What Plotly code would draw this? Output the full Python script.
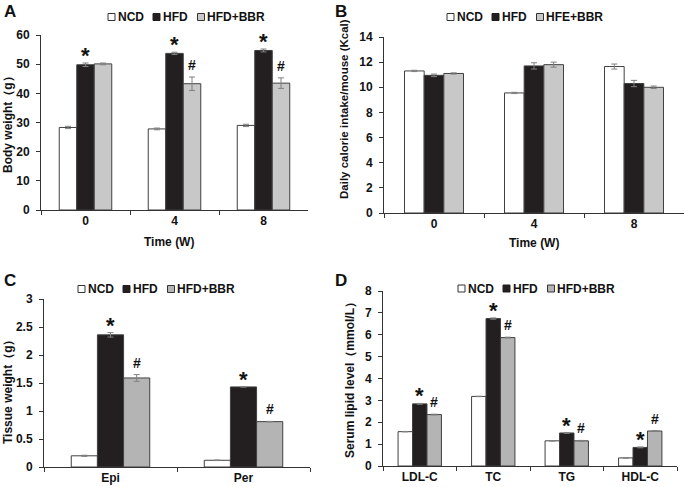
import plotly.graph_objects as go

# ---------------- data ----------------
groups = ["NCD", "HFD", "HFD+BBR"]
groups_b = ["NCD", "HFD", "HFE+BBR"]

a_cats = ["0", "4", "8"]
a_ncd = [28.3, 27.8, 29.0]
a_ncd_err = [0.4, 0.3, 0.4]
a_hfd = [49.8, 53.7, 54.7]
a_hfd_err = [0.6, 0.4, 0.5]
a_bbr = [50.1, 43.3, 43.5]
a_bbr_err = [0.3, 2.3, 1.8]
a_star = ["*", "*", "*"]
a_hash = ["", "#", "#"]

b_cats = ["0", "4", "8"]
b_ncd = [11.3, 9.55, 11.65]
b_ncd_err = [0.05, 0.05, 0.2]
b_hfd = [10.95, 11.7, 10.3]
b_hfd_err = [0.1, 0.25, 0.25]
b_bbr = [11.1, 11.8, 10.0]
b_bbr_err = [0.05, 0.2, 0.1]

c_cats = ["Epi", "Per"]
c_ncd = [0.2, 0.12]
c_ncd_err = [0.01, 0.005]
c_hfd = [2.36, 1.43]
c_hfd_err = [0.04, 0.005]
c_bbr = [1.59, 0.81]
c_bbr_err = [0.06, 0.005]
c_star = ["*", "*"]
c_hash = ["#", "#"]

d_cats = ["LDL-C", "TC", "TG", "HDL-C"]
d_ncd = [1.57, 3.18, 1.15, 0.37]
d_ncd_err = [0.01, 0.01, 0.01, 0.01]
d_hfd = [2.84, 6.74, 1.51, 0.85]
d_hfd_err = [0.02, 0.03, 0.02, 0.02]
d_bbr = [2.35, 5.87, 1.15, 1.6]
d_bbr_err = [0.02, 0.02, 0.02, 0.02]
d_star = ["*", "*", "*", "*"]
d_hash = ["#", "#", "#", "#"]

# ---------------- style ----------------
FONT = "Liberation Sans, Arial, sans-serif"
W, H = 685, 487
C_NCD = "#ffffff"
C_HFD = "#231f20"
C_BBR_AB = "#c8c8c8"
C_BBR_CD = "#b4b4b4"
EDGE = "#404040"
ERRC = "#808080"
BARGAP = 0.41

panels = [
    dict(k="", cats=a_cats, ser=[(a_ncd, a_ncd_err), (a_hfd, a_hfd_err), (a_bbr, a_bbr_err)],
         names=groups, xd=(41, 308), yd=(35, 210), yr=60, dt=10,
         yt="Body weight（g）", ytpos=(8, 122), ytsize=12, xt="Time (W)", xtpos=(169, 242),
         cb=C_BBR_AB, star=a_star, hash=a_hash, leg=(108, 17), letter="A", letpos=(2, 0)),
    dict(k="2", cats=b_cats, ser=[(b_ncd, b_ncd_err), (b_hfd, b_hfd_err), (b_bbr, b_bbr_err)],
         names=groups_b, xd=(384, 684), yd=(37, 213), yr=14, dt=2,
         yt="Daily calorie intake/mouse (Kcal)", ytpos=(344, 109), ytsize=11.5,
         xt="Time (W)", xtpos=(534, 243),
         cb=C_BBR_AB, star=None, hash=None, leg=(447, 17), letter="B", letpos=(333, 0)),
    dict(k="3", cats=c_cats, ser=[(c_ncd, c_ncd_err), (c_hfd, c_hfd_err), (c_bbr, c_bbr_err)],
         names=groups, xd=(44, 310), yd=(299, 467), yr=3, dt=0.5,
         yt="Tissue weight（g）", ytpos=(8, 389), ytsize=12, xt=None, xtpos=None, cb=C_BBR_CD,
         star=c_star, hash=c_hash, leg=(78, 289), letter="C", letpos=(2, 269)),
    dict(k="4", cats=d_cats, ser=[(d_ncd, d_ncd_err), (d_hfd, d_hfd_err), (d_bbr, d_bbr_err)],
         names=groups, xd=(383, 677), yd=(291, 466), yr=8, dt=1,
         yt="Serum lipid level（mmol/L）", ytpos=(350, 377), ytsize=12, xt=None, xtpos=None,
         cb=C_BBR_CD, star=d_star, hash=d_hash, leg=(458, 288.5), letter="D", letpos=(333, 269)),
]

fig = go.Figure()
layout = dict(
    width=W, height=H, margin=dict(l=0, r=0, t=0, b=0, autoexpand=False),
    paper_bgcolor="white", plot_bgcolor="white",
    font=dict(family=FONT, size=12, color="#111111"),
    barmode="group", bargap=BARGAP, bargroupgap=0,
    showlegend=False,
)
annotations = []
shapes = []
bw = (1 - BARGAP) / 3.0
SQ = 7
sq_off = [0, 45, 89.5]
tx_off = [8.7, 53.7, 98]

for p in panels:
    k = p["k"]
    xa = "x" + k
    ya = "y" + k
    cols = [C_NCD, C_HFD, p["cb"]]
    for i, (vals, errs) in enumerate(p["ser"]):
        fig.add_trace(go.Bar(
            x=p["cats"], y=vals, name=p["names"][i],
            xaxis=xa, yaxis=ya,
            marker=dict(color=cols[i], line=dict(color=EDGE, width=1)),
            error_y=dict(type="data", array=errs, color=ERRC, thickness=1, width=3),
        ))
    x0, x1 = p["xd"]
    yt, yb = p["yd"]
    layout["xaxis" + k] = dict(
        domain=[x0 / W, x1 / W], anchor=ya, type="category", automargin=False,
        showline=True, linecolor="#333333", linewidth=1,
        ticks="outside", tickson="boundaries", ticklen=4, tickcolor="#333333",
        tickfont=dict(size=12, family=FONT, weight="bold"), showgrid=False, zeroline=False,
    )
    layout["yaxis" + k] = dict(
        domain=[1 - yb / H, 1 - yt / H], anchor=xa, range=[0, p["yr"]], dtick=p["dt"],
        automargin=False,
        showline=True, linecolor="#333333", linewidth=1,
        ticks="outside", ticklen=4, tickcolor="#333333", ticklabelstandoff=4,
        tickfont=dict(size=12, family=FONT, weight="bold"), showgrid=False, zeroline=False,
    )
    # axis titles
    annotations.append(dict(
        x=p["ytpos"][0] / W, y=1 - p["ytpos"][1] / H, xref="paper", yref="paper",
        text="<b>%s</b>" % p["yt"], textangle=-90, showarrow=False,
        xanchor="center", yanchor="middle", font=dict(size=p["ytsize"], family=FONT)))
    if p["xt"]:
        annotations.append(dict(
            x=p["xtpos"][0] / W, y=1 - p["xtpos"][1] / H, xref="paper", yref="paper",
            text="<b>%s</b>" % p["xt"], showarrow=False,
            xanchor="center", yanchor="middle", font=dict(size=12, family=FONT)))
    # legend (squares + labels)
    L, cy = p["leg"]
    for i in range(3):
        sx = L + sq_off[i]
        shapes.append(dict(
            type="rect", xref="paper", yref="paper",
            x0=sx / W, x1=(sx + SQ) / W, y0=1 - (cy + SQ / 2) / H, y1=1 - (cy - SQ / 2) / H,
            fillcolor=cols[i], line=dict(color="#333333" if i != 1 else C_HFD, width=1)))
        annotations.append(dict(
            x=(L + tx_off[i]) / W, y=1 - cy / H, xref="paper", yref="paper",
            text="<b>%s</b>" % p["names"][i], showarrow=False,
            xanchor="left", yanchor="middle", xshift=-1, font=dict(size=12, family=FONT)))
    # significance marks
    hfd_vals, hfd_errs = p["ser"][1]
    bbr_vals, bbr_errs = p["ser"][2]
    if p["star"]:
        for j, s in enumerate(p["star"]):
            if s:
                annotations.append(dict(
                    x=j, y=hfd_vals[j] + hfd_errs[j], xref=xa, yref=ya, text="<b>*</b>",
                    showarrow=False, yanchor="bottom", yshift=-7, font=dict(size=22, family=FONT)))
    if p["hash"]:
        for j, s in enumerate(p["hash"]):
            if s:
                annotations.append(dict(
                    x=j + bw, y=bbr_vals[j] + bbr_errs[j], xref=xa, yref=ya, text="<b>#</b>",
                    showarrow=False, yanchor="bottom", yshift=2, font=dict(size=14, family=FONT)))
    annotations.append(dict(
        x=p["letpos"][0] / W, y=1 - p["letpos"][1] / H, xref="paper", yref="paper",
        text="<b>%s</b>" % p["letter"], showarrow=False, xanchor="left", yanchor="top",
        font=dict(size=17, family=FONT)))

layout["annotations"] = annotations
layout["shapes"] = shapes
fig.update_layout(**layout)
fig.write_html("out.html", config={"displayModeBar": False},
               post_script="document.body.style.margin='0px';")
